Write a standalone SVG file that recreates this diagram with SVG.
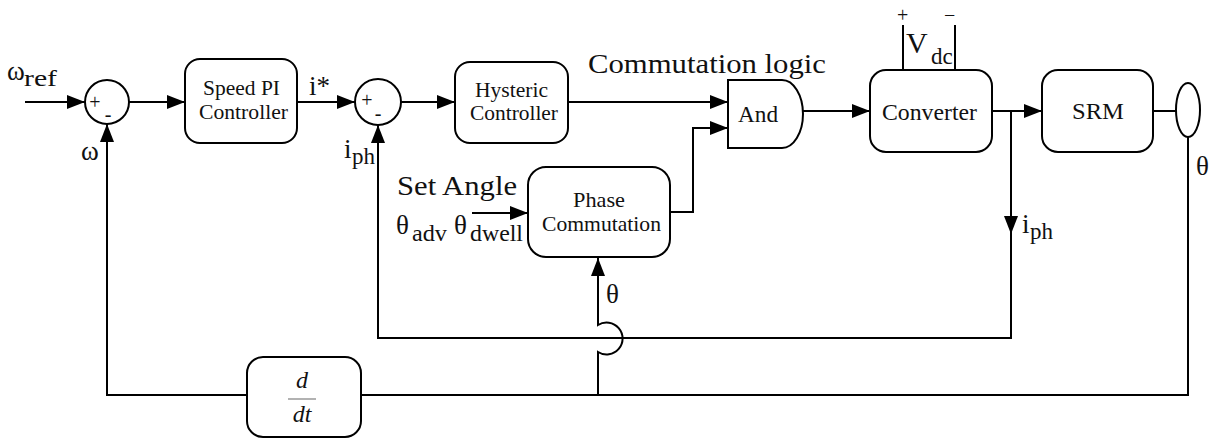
<svg xmlns="http://www.w3.org/2000/svg" width="1211" height="440" viewBox="0 0 1211 440" font-family="'Liberation Serif', 'DejaVu Serif', 'Times New Roman', serif">
  <defs>
    <marker id="arrow" viewBox="0 0 18 14" refX="18" refY="7" markerWidth="18" markerHeight="14" markerUnits="userSpaceOnUse" orient="auto">
      <path d="M0,0 L18,7 L0,14 Z" fill="#000"/>
    </marker>
    <style>
      .blk { fill: #fff; stroke: #000; stroke-width: 2; }
      .wire { fill: none; stroke: #000; stroke-width: 2; }
      .arr { marker-end: url(#arrow); }
      text { font-family: 'Liberation Serif', 'DejaVu Serif', 'Times New Roman', serif; fill: #111; }
      .lbl { font-size: 21px; }
      .big { font-size: 27px; }
      .sub { font-size: 23px; }
      .sign { font-size: 20px; }
    </style>
  </defs>
  <rect width="1211" height="440" fill="#fff"/>

  <!-- signal wiring -->
  <g id="connectors">
    <path class="wire arr" d="M25,102 H85"/>
    <path class="wire arr" d="M129,102 H185"/>
    <path class="wire arr" d="M297,102 H355"/>
    <path class="wire arr" d="M401,102 H455"/>
    <path class="wire arr" d="M568,102 H728"/>
    <path class="wire arr" d="M670,212 H693 V128 H728"/>
    <path class="wire arr" d="M472,213 H528"/>
    <path class="wire arr" d="M803,111 H870"/>
    <path class="wire arr" d="M992,111 H1042"/>
    <path class="wire" d="M1153,111 H1176"/>
    <!-- phase current feedback -->
    <path class="wire arr" d="M1011,111 V234"/>
    <path class="wire arr" d="M1011,232 V338 H378 V125"/>
    <!-- rotor position feedback -->
    <path class="wire arr" d="M1188,137 V395 H107 V124"/>
    <!-- position to phase commutation, hopping over the current wire -->
    <path class="wire arr" d="M598,395 V352 A16,16 0 1 0 598,325 V258"/>
    <line x1="903" y1="25" x2="903" y2="70" class="wire"/>
    <line x1="955" y1="25" x2="955" y2="70" class="wire"/>
  </g>

  <g id="sum1">
    <circle cx="107" cy="102" r="22" class="blk"/>
    <text x="95" y="109" class="sign" text-anchor="middle">+</text>
    <text x="108" y="121" class="sign" text-anchor="middle">-</text>
  </g>

  <g id="sum2">
    <circle cx="378" cy="102" r="23" class="blk"/>
    <text x="367" y="107" class="sign" text-anchor="middle">+</text>
    <text x="378" y="120" class="sign" text-anchor="middle">-</text>
  </g>

  <g id="speed-pi">
    <rect x="185" y="59" width="112" height="84" rx="15" class="blk"/>
    <text x="203" y="95" class="lbl" textLength="77" lengthAdjust="spacingAndGlyphs">Speed PI</text>
    <text x="199" y="119" class="lbl" textLength="89" lengthAdjust="spacingAndGlyphs">Controller</text>
  </g>

  <g id="hysteric">
    <rect x="455" y="62" width="113" height="81" rx="15" class="blk"/>
    <text x="475" y="97" class="lbl" textLength="73" lengthAdjust="spacingAndGlyphs">Hysteric</text>
    <text x="470" y="120" class="lbl" textLength="88" lengthAdjust="spacingAndGlyphs">Controller</text>
  </g>

  <g id="and-gate">
    <path d="M728,80 H782 A21,34 0 0 1 782,148 H728 Z" class="blk"/>
    <text x="738" y="122" class="sub" textLength="40" lengthAdjust="spacingAndGlyphs">And</text>
  </g>

  <g id="converter">
    <rect x="870" y="70" width="122" height="82" rx="16" class="blk"/>
    <text x="882" y="120" class="sub" textLength="95" lengthAdjust="spacingAndGlyphs">Converter</text>
  </g>

  <g id="srm">
    <rect x="1042" y="70" width="111" height="82" rx="16" class="blk"/>
    <text x="1072" y="119" class="sub" textLength="52" lengthAdjust="spacingAndGlyphs">SRM</text>
  </g>

  <g id="encoder">
    <ellipse cx="1188" cy="110" rx="12" ry="27" class="blk"/>
  </g>

  <g id="phase-commutation">
    <rect x="528" y="167" width="142" height="90" rx="18" class="blk"/>
    <text x="573" y="207" class="lbl" textLength="52" lengthAdjust="spacingAndGlyphs">Phase</text>
    <text x="542" y="231" class="lbl" textLength="119" lengthAdjust="spacingAndGlyphs">Commutation</text>
  </g>

  <g id="derivative">
    <rect x="247" y="357" width="114" height="80" rx="16" class="blk"/>
    <text x="302" y="388" font-size="24" font-style="italic" text-anchor="middle">d</text>
    <line x1="288" y1="399" x2="316" y2="399" stroke="#999" stroke-width="1.5"/>
    <text x="302" y="422" font-size="24" font-style="italic" text-anchor="middle">dt</text>
  </g>

  <!-- signal labels -->
  <g id="labels">
    <text x="7" y="80" class="big">ω</text>
    <text x="24" y="86" class="sub" textLength="33" lengthAdjust="spacingAndGlyphs">ref</text>
    <text x="81" y="160" class="big">ω</text>
    <text x="309" y="95" class="big">i*</text>
    <text x="344" y="158" class="big">i</text>
    <text x="352" y="164" class="sub">ph</text>
    <text x="588" y="73" class="big" textLength="238" lengthAdjust="spacingAndGlyphs">Commutation logic</text>
    <text x="897" y="22" class="sign">+</text>
    <text x="944" y="22" class="sign">−</text>
    <text x="906" y="53" font-size="30">V</text>
    <text x="931" y="64" class="sub">dc</text>
    <text x="397" y="195" class="big" textLength="120" lengthAdjust="spacingAndGlyphs">Set Angle</text>
    <text x="396" y="234" class="big">θ</text>
    <text x="412" y="241" class="sub" textLength="35" lengthAdjust="spacingAndGlyphs">adv</text>
    <text x="454" y="234" class="big">θ</text>
    <text x="470" y="241" class="sub" textLength="53" lengthAdjust="spacingAndGlyphs">dwell</text>
    <text x="606" y="303" class="big">θ</text>
    <text x="1022" y="233" class="big">i</text>
    <text x="1030" y="239" class="sub">ph</text>
    <text x="1196" y="175" class="big">θ</text>
  </g>
</svg>
